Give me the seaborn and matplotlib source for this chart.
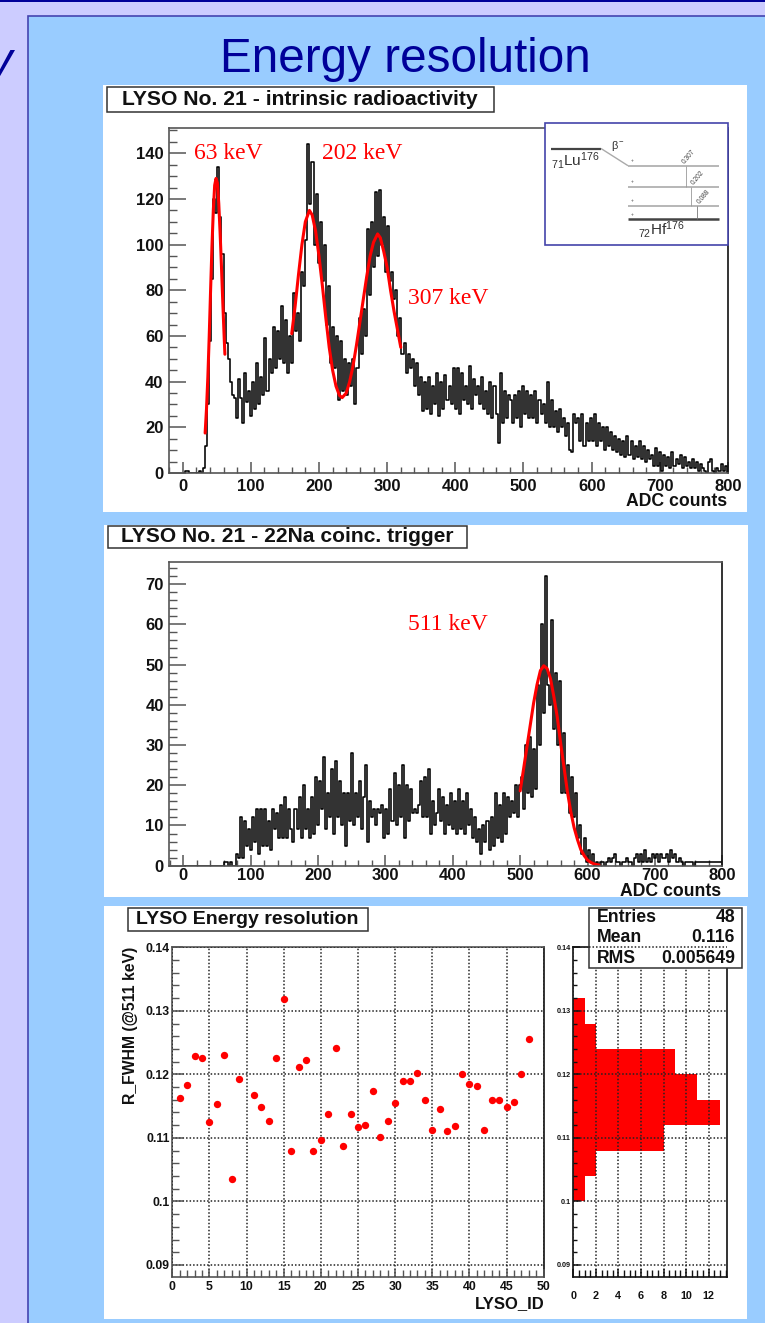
import matplotlib
matplotlib.use("Agg")
import matplotlib.pyplot as plt
from matplotlib.lines import Line2D
from matplotlib.patches import Rectangle
from matplotlib.ticker import MultipleLocator
import numpy as np
import seaborn as sns

W = 765
H = 1323
BIN_STEP = 3

# counts per 3 ADC bin
lu_counts = [
	0, 1, 1, 0, 0, 0, 0, 0, 1, 0,
	2, 12, 30, 58, 85, 120, 114, 134, 112, 96,
	70, 57, 50, 40, 34, 33, 24, 41, 33, 22,
	44, 31, 36, 25, 40, 28, 48, 30, 42, 34,
	59, 36, 50, 44, 64, 46, 62, 50, 73, 48,
	67, 44, 60, 48, 79, 62, 70, 58, 88, 82,
	102, 144, 118, 136, 100, 122, 92, 110, 84, 100,
	65, 82, 48, 64, 46, 60, 32, 58, 36, 50,
	34, 48, 38, 50, 30, 46, 68, 52, 72, 60,
	107, 78, 110, 90, 123, 95, 124, 100, 112, 88,
	108, 84, 88, 76, 80, 60, 68, 52, 57, 44,
	52, 46, 50, 38, 48, 34, 42, 27, 40, 28,
	42, 26, 38, 30, 44, 25, 40, 28, 43, 32,
	38, 30, 46, 28, 46, 26, 44, 32, 38, 30,
	47, 28, 41, 34, 38, 30, 42, 28, 36, 26,
	40, 24, 38, 26, 13, 44, 22, 36, 24, 34,
	32, 22, 34, 24, 36, 20, 38, 26, 36, 24,
	34, 24, 36, 22, 32, 26, 30, 22, 40, 20,
	32, 20, 27, 18, 28, 20, 24, 16, 22, 10,
	9, 26, 22, 24, 14, 26, 12, 22, 14, 24,
	14, 26, 12, 22, 14, 20, 10, 20, 12, 18,
	10, 16, 9, 15, 8, 14, 7, 16, 8, 14,
	6, 12, 7, 14, 6, 12, 5, 10, 6, 8,
	3, 11, 3, 9, 1, 8, 3, 7, 2, 9,
	3, 6, 4, 8, 2, 7, 3, 5, 2, 6,
	2, 5, 1, 4, 2, 1, 0, 5, 6, 1,
	0, 2, 1, 4, 1, 3, 0,
]
na_counts = [
	0, 0, 0, 0, 0, 0, 0, 0, 0, 0,
	0, 0, 0, 0, 0, 0, 0, 0, 0, 0,
	1, 1, 0, 1, 0, 0, 3, 2, 12, 2,
	11, 5, 9, 4, 12, 6, 14, 3, 14, 5,
	14, 5, 11, 4, 14, 9, 13, 7, 15, 7,
	17, 7, 14, 9, 6, 14, 9, 17, 7, 20,
	9, 14, 7, 17, 8, 22, 10, 21, 14, 27,
	9, 18, 12, 24, 8, 26, 12, 21, 10, 18,
	5, 18, 11, 28, 10, 18, 12, 21, 9, 17,
	25, 6, 16, 12, 14, 10, 14, 13, 15, 7,
	14, 8, 19, 11, 23, 10, 20, 12, 25, 7,
	20, 11, 19, 13, 14, 13, 15, 21, 12, 22,
	12, 24, 8, 16, 10, 13, 19, 11, 17, 8,
	15, 10, 18, 9, 16, 8, 19, 9, 16, 8,
	18, 10, 14, 7, 12, 6, 9, 3, 10, 6,
	11, 4, 12, 5, 18, 7, 15, 6, 18, 8,
	17, 12, 16, 13, 20, 12, 20, 22, 14, 30,
	18, 32, 17, 29, 19, 45, 30, 60, 38, 72,
	45, 40, 61, 34, 48, 30, 46, 18, 33, 18,
	25, 13, 22, 12, 18, 7, 10, 3, 7, 1,
	4, 1, 3, 0, 1, 0, 1, 1, 0, 1,
	2, 1, 2, 3, 1, 1, 0, 1, 1, 2,
	1, 1, 0, 2, 3, 1, 3, 1, 4, 1,
	2, 1, 3, 2, 3, 1, 3, 2, 2, 3,
	1, 4, 2, 3, 1, 2, 1, 0, 1, 1,
	1, 1, 0, 1, 1, 1, 1, 1, 1, 1,
	1, 1, 1, 1, 1, 1, 1,
]

# fitted peaks
fit_63_x = [33, 35, 37, 39, 41, 43, 45, 47, 49, 51, 53, 55, 57, 59, 61, 62]
fit_63_y = [17.5, 28, 42, 60, 80, 99, 115, 126, 129, 127, 118, 105, 90, 74, 59, 52]
fit_mid_x = [160, 165, 170, 175, 180, 186, 190, 195, 200, 205, 210, 215, 220, 225, 230, 234, 240,
	245, 250, 255, 260, 265, 270, 275, 280, 286, 290, 295, 300, 305, 310, 315, 320]
fit_mid_y = [61, 73, 87, 100, 110, 115, 113, 106, 95, 82, 68, 55, 45, 38, 34, 33, 35,
	40, 47, 56, 66, 76, 86, 95, 101, 104.7, 103, 97, 90, 80, 71, 63, 55]
fit_511_x = [500, 505, 510, 515, 520, 525, 530, 535, 540, 545, 550, 555, 560, 565, 570, 575, 580,
	585, 590, 595, 600, 605, 610, 617]
fit_511_y = [18.6, 24, 29.5, 35, 40.5, 45, 48.5, 49.7, 49, 46.5, 42, 37, 30.5, 24.5, 18.5, 13.5, 9.5,
	6.5, 4, 2.5, 1.4, 0.8, 0.4, 0.15]

# crystal 10 has no point
lyso_id = [1, 2, 3, 4, 5, 6, 7, 8, 9, 11, 12, 13, 14, 15, 16, 17, 18, 19, 20, 21, 22, 23, 24, 25,
	26, 27, 28, 29, 30, 31, 32, 33, 34, 35, 36, 37, 38, 39, 40, 41, 42, 43, 44, 45, 46, 47, 48]
r_fwhm = [0.1163, 0.1183, 0.1229, 0.1226, 0.1125, 0.1154, 0.1230, 0.1036, 0.1192, 0.1168, 0.1149,
	0.1126, 0.1226, 0.1319, 0.1080, 0.1212, 0.1222, 0.1079, 0.1096, 0.1138, 0.1242, 0.1087, 0.1138,
	0.1117, 0.1121, 0.1174, 0.1101, 0.1126, 0.1155, 0.1190, 0.1190, 0.1202, 0.1160, 0.1113, 0.1146,
	0.1111, 0.1119, 0.1201, 0.1185, 0.1182, 0.1113, 0.1160, 0.1159, 0.1149, 0.1156, 0.1201, 0.1256]

res_edges = [0.100, 0.104, 0.108, 0.112, 0.116, 0.120, 0.124, 0.128, 0.132]
res_counts = [1, 2, 8, 13, 11, 9, 2, 1]

stats_names = ["Entries", "Mean", "RMS"]
stats_values = ["48", "0.116", "0.005649"]
res_ticks = [0.09, 0.10, 0.11, 0.12, 0.13, 0.14]
res_tick_labels = ["0.09", "0.1", "0.11", "0.12", "0.13", "0.14"]

GREY = "#555555"
DOTS = (0, (1, 1.3))
BOLD = {"family": "Liberation Sans", "weight": "bold", "color": "#111111"}
SERIF = {"family": "Liberation Serif", "color": "#ff0000"}


def add_axes(fig, left, top, right, bottom):
	ax = fig.add_axes([left / W, 1 - bottom / H, (right - left) / W, (bottom - top) / H])
	ax.patch.set_alpha(0)
	return ax


def px_text(fig, x, y, s, **kw):
	kw.setdefault("va", "center")
	kw.setdefault("zorder", 6)
	return fig.text(x / W, 1 - y / H, s, **kw)


def px_rect(fig, left, top, right, bottom, **kw):
	fig.add_artist(Rectangle((left / W, 1 - bottom / H), (right - left) / W, (bottom - top) / H,
		transform=fig.transFigure, **kw))


def px_line(fig, xs, ys, **kw):
	fig.add_artist(Line2D([x / W for x in xs], [1 - y / H for y in ys],
		transform=fig.transFigure, solid_capstyle="butt", **kw))


def title_box(fig, left, top, right, bottom, s, size):
	px_rect(fig, left, top, right, bottom, fc="white", ec="#333333", lw=1.1, zorder=5)
	px_text(fig, (left + right) / 2, (top + bottom) / 2, s, ha="center", size=size, **BOLD)


def style_axes(ax, x_major, x_minor, y_major, y_minor, size, x_len, y_len, color=GREY, x_pad=4, y_pad=4):
	ax.xaxis.set_major_locator(MultipleLocator(x_major))
	ax.xaxis.set_minor_locator(MultipleLocator(x_minor))
	ax.yaxis.set_major_locator(MultipleLocator(y_major))
	ax.yaxis.set_minor_locator(MultipleLocator(y_minor))
	ax.set_xlabel("")
	ax.set_ylabel("")
	ax.tick_params(which="major", axis="x", direction="in", length=x_len[0], width=1.1, color=color, pad=x_pad)
	ax.tick_params(which="minor", axis="x", direction="in", length=x_len[1], width=1.0, color=color)
	ax.tick_params(which="major", axis="y", direction="in", length=y_len[0], width=1.1, color=color, pad=y_pad)
	ax.tick_params(which="minor", axis="y", direction="in", length=y_len[1], width=1.0, color=color)
	for lab in ax.get_xticklabels() + ax.get_yticklabels():
		lab.set_fontsize(size)
		lab.set_fontweight("bold")
		lab.set_color("#111111")
	for side in ax.spines:
		ax.spines[side].set_visible(True)
		ax.spines[side].set_color(color)
		ax.spines[side].set_linewidth(1.2)
	ax.spines["right"].set_color("#111111")


def draw_spectrum(ax, counts, fits):
	bin_x = np.arange(len(counts)) * BIN_STEP + BIN_STEP / 2
	sns.lineplot(x=bin_x, y=counts, ax=ax, color="black", lw=1.15, estimator=None,
		drawstyle="steps-mid", errorbar=None)
	for fit_x, fit_y in fits:
		sns.lineplot(x=fit_x, y=fit_y, ax=ax, color="#ff0000", lw=2.2, estimator=None,
			errorbar=None, sort=False)


def draw_decay_scheme(fig):
	px_rect(fig, 545, 123, 728, 245, fc="white", ec="#4444aa", lw=1.2, zorder=5)
	px_line(fig, [551, 601], [148.5, 148.5], color="#444444", lw=1.6, zorder=6)
	px_line(fig, [601, 628], [148.5, 165.7], color="#aaaaaa", lw=1.0, zorder=6)
	for lev_y in [165.7, 186.7, 205.7]:
		px_line(fig, [628, 719], [lev_y, lev_y], color="#aaaaaa", lw=1.2, zorder=6)
		px_text(fig, 632, lev_y - 5, "+", size=3.5, color="#555555", ha="center")
	px_line(fig, [628, 719], [219, 219], color="#444444", lw=1.8, zorder=6)
	px_text(fig, 632, 214, "+", size=3.5, color="#555555", ha="center")
	px_line(fig, [685.5, 685.5], [165.7, 186.7], color="#999999", lw=0.6, zorder=6)
	px_line(fig, [690.5, 690.5], [186.7, 205.7], color="#999999", lw=0.6, zorder=6)
	px_line(fig, [696.5, 696.5], [205.7, 219], color="#777777", lw=0.6, zorder=6)
	for lab_x, lab_y, s in [(689, 157, "0.307"), (698, 178, "0.202"), (704, 197, "0.088")]:
		px_text(fig, lab_x, lab_y, s, size=4.8, color="#444444", rotation=50, ha="center",
			family="Liberation Sans")
	px_text(fig, 551, 161, r"$_{71}$Lu$^{176}$", size=11, family="Liberation Sans", color="#333333")
	px_text(fig, 638, 230, r"$_{72}$Hf$^{176}$", size=11, family="Liberation Sans", color="#333333")
	px_text(fig, 618, 146, r"$\beta^{-}$", size=8, ha="center", color="#333333")


def main():
	sns.set_style("ticks")
	plt.rcParams["font.family"] = ["Liberation Sans", "DejaVu Sans"]
	plt.rcParams["mathtext.fontset"] = "custom"
	plt.rcParams["mathtext.rm"] = "Liberation Sans"
	plt.rcParams["mathtext.it"] = "Liberation Sans"
	plt.rcParams["mathtext.bf"] = "Liberation Sans:bold"

	fig = plt.figure(figsize=(W / 100, H / 100), dpi=100, facecolor="#ccccff")

	# slide background
	px_rect(fig, 0, 0, W, 2, fc="#000099", ec="none", zorder=-3)
	px_rect(fig, 28, 16, W + 5, H + 5, fc="#99ccff", ec="#4444b0", lw=1.2, zorder=-3)
	px_rect(fig, 103, 85, 747, 512, fc="white", ec="none", zorder=-2)
	px_rect(fig, 104, 525, 748, 897, fc="white", ec="none", zorder=-2)
	px_rect(fig, 104, 906, 747, 1319, fc="white", ec="none", zorder=-2)

	px_text(fig, 405, 59, "Energy resolution", ha="center", size=34.3, color="#000099",
		family="Liberation Sans")
	px_text(fig, 12, 63, "y", ha="right", size=34, color="#000099", family="Liberation Sans",
		style="italic")

	# top spectrum
	ax1 = add_axes(fig, 169, 127.7, 728, 473)
	draw_spectrum(ax1, lu_counts, [(fit_63_x, fit_63_y), (fit_mid_x, fit_mid_y)])
	ax1.set_xlim(-20, 800)
	ax1.set_ylim(0, 151.2)
	style_axes(ax1, 100, 20, 20, 5, 12, (8, 4), (12, 6))
	ax1.text(16.6, 140, "63 keV", size=17, va="center", **SERIF)
	ax1.text(204, 140, "202 keV", size=17, va="center", **SERIF)
	ax1.text(330, 76.5, "307 keV", size=17, va="center", **SERIF)
	title_box(fig, 106.5, 87, 493.5, 111.5, "LYSO No. 21 - intrinsic radioactivity", 15.2)
	px_text(fig, 727, 501, "ADC counts", ha="right", size=12.7, **BOLD)
	draw_decay_scheme(fig)

	# middle spectrum
	ax2 = add_axes(fig, 169.3, 562, 722.3, 865.7)
	draw_spectrum(ax2, na_counts, [(fit_511_x, fit_511_y)])
	ax2.set_xlim(-20.8, 800)
	ax2.set_ylim(0, 75.5)
	style_axes(ax2, 100, 20, 10, 2, 12, (8, 4), (12, 6), x_pad=2)
	ax2.text(333, 60, "511 keV", size=17, va="center", **SERIF)
	title_box(fig, 108, 525.5, 467, 548, "LYSO No. 21 - 22Na coinc. trigger", 15.1)
	px_text(fig, 721, 891, "ADC counts", ha="right", size=12.7, **BOLD)

	# resolution per crystal
	ax3 = add_axes(fig, 172.3, 947.3, 543.7, 1277.3)
	sns.scatterplot(x=lyso_id, y=r_fwhm, ax=ax3, color="#ff0000", s=28, linewidth=0, zorder=3)
	ax3.set_xlim(0, 50)
	ax3.set_ylim(0.08806, 0.14)
	style_axes(ax3, 5, 1, 0.01, 0.002, 8.8, (6, 5), (8, 5), x_pad=3, y_pad=2)
	ax3.set_yticks(res_ticks)
	ax3.set_yticklabels(res_tick_labels, size=8.8, weight="bold")
	ax3.grid(True, which="major", color="#222222", ls=DOTS, lw=1.1)
	ax3.set_axisbelow(False)
	title_box(fig, 127.5, 908, 368, 931, "LYSO Energy resolution", 14)
	px_text(fig, 545, 1304, "LYSO_ID", ha="right", size=12, **BOLD)
	px_text(fig, 130, 1025, "R_FWHM (@511 keV)", ha="center", rotation=90, size=11.3, **BOLD)

	# projection of the same values
	ax4 = add_axes(fig, 573.3, 947.3, 727.3, 1277.3)
	centers = (np.array(res_edges[:-1]) + np.array(res_edges[1:])) / 2
	sns.histplot(y=centers, weights=res_counts, bins=res_edges, ax=ax4, color="#ff0000",
		alpha=1, linewidth=0)
	ax4.set_xlim(0, 13.65)
	ax4.set_ylim(0.08806, 0.14)
	style_axes(ax4, 2, 0.5, 0.01, 0.002, 7.8, (6, 5), (5, 3), color="#111111", x_pad=10, y_pad=2)
	ax4.set_yticks(res_ticks)
	ax4.set_yticklabels(res_tick_labels, size=5.2, weight="bold")
	ax4.grid(True, which="major", color="#222222", ls=DOTS, lw=1.1)
	ax4.set_axisbelow(False)

	# stats box
	px_rect(fig, 589, 908, 742, 968, fc="white", ec="#333333", lw=1.1, zorder=5)
	px_line(fig, [589, 727], [947.3, 947.3], color="#222222", lw=1.1, ls=DOTS, zorder=6)
	for row, (name, value) in enumerate(zip(stats_names, stats_values)):
		row_y = 917.5 + row * 20.5
		px_text(fig, 597, row_y, name, size=12.7, **BOLD)
		px_text(fig, 735, row_y, value, ha="right", size=12.7, **BOLD)

	fig.savefig("out.png", dpi=100, facecolor=fig.get_facecolor())


if __name__ == "__main__":
	main()
